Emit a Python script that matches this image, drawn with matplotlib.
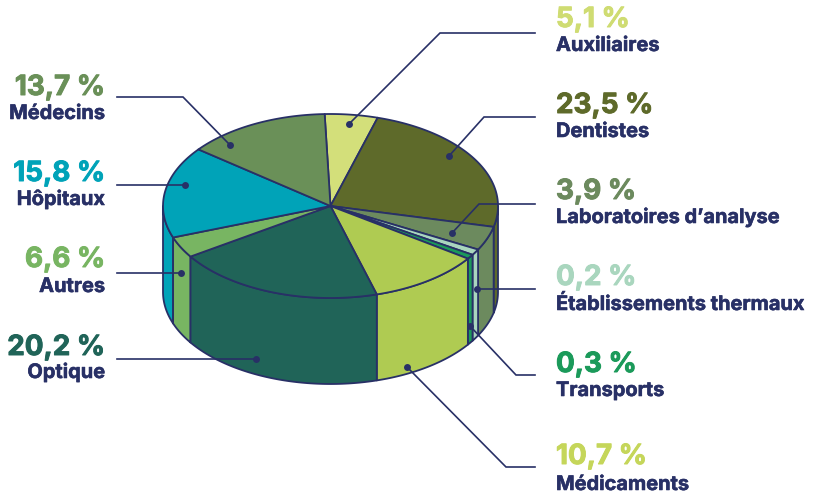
import numpy as np
import matplotlib
matplotlib.use("Agg")
import matplotlib.pyplot as plt
import matplotlib.patheffects as pe
from matplotlib.patches import Polygon

# Data (as labelled)
categories = ["Auxiliaires", "Dentistes", "Laboratoires d’analyse", "Établissements thermaux",
              "Transports", "Médicaments", "Optique", "Autres", "Hôpitaux", "Médecins"]
labels = ["5,1 %", "23,5 %", "3,9 %", "0,2 %", "0,3 %", "10,7 %", "20,2 %", "6,6 %", "15,8 %", "13,7 %"]
# Shares as actually drawn in the picture (slice widths)
drawn_shares = [5.1, 24.1, 4.2, 1.05, 0.8, 10.85, 20.2, 3.7, 16.1, 13.9]
colors = ["#D3DF7A", "#5E6A2A", "#6C8A5E", "#A9D6BE", "#1B9A5A", "#AFCB52",
          "#206458", "#78B562", "#00A3B8", "#6A9058"]
label_colors = ["#CFDC72", "#5E6A2A", "#6C8A5E", "#A9D6BE", "#1B9A5A", "#C5D65A",
                "#206458", "#78B562", "#00A3B8", "#6A9058"]
text_side = ["r", "r", "r", "r", "r", "r", "l", "l", "l", "l"]
value_base = [27, 113, 199, 285, 372, 464, 355, 267, 181, 95]
name_base = [51, 137, 223, 310, 396, 490, 378, 292, 205, 119]
leaders = [
    [(349, 124), (440, 33), (535, 33)],
    [(449, 156), (484, 117), (535, 117)],
    [(452, 233), (479, 204), (535, 204)],
    [(477, 289), (535, 289)],
    [(470, 326), (516, 375), (535, 375)],
    [(407, 367), (506, 467), (535, 467)],
    [(256, 359), (117, 359)],
    [(181, 273), (117, 273)],
    [(185, 185), (117, 185)],
    [(230, 145), (183, 97), (117, 97)],
]
NAVY = "#283066"
CX, CY, RX, RY, DEPTH = 330.5, 206.0, 167.5, 92.0, 86.0
START = -2.0

plt.rcParams["font.family"] = ["Inter", "DejaVu Sans"]
fig = plt.figure(figsize=(8.13, 4.95), dpi=100)
ax = fig.add_axes([0, 0, 1, 1])
ax.set_xlim(0, 813)
ax.set_ylim(495, 0)
ax.axis("off")


def pt(t, dy=0.0):
    r = np.radians(t)
    return CX + RX * np.sin(r), CY - RY * np.cos(r) + dy


def arc(a, b, dy=0.0, n=None):
    n = n or max(2, int(abs(b - a)) + 2)
    ts = np.linspace(a, b, n)
    return np.column_stack(pt(ts, dy))


edges = START + np.concatenate([[0], np.cumsum(drawn_shares)]) * 3.6
lw = 1.3

# side walls: only the front half (90..270 in parametric angle) is visible
order = sorted(range(len(colors)), key=lambda i: -abs(((edges[i] + edges[i + 1]) / 2) - 180))
for i in order:
    a, b = max(edges[i], 90), min(edges[i + 1], 270)
    if a >= b:
        continue
    top = arc(a, b)
    bot = arc(b, a, DEPTH)
    ax.add_patch(Polygon(np.vstack([top, bot]), closed=True, facecolor=colors[i],
                         edgecolor=NAVY, lw=lw, joinstyle="round", zorder=2))
# top slices
for i in range(len(colors)):
    poly = np.vstack([[(CX, CY)], arc(edges[i], edges[i + 1])])
    ax.add_patch(Polygon(poly, closed=True, facecolor=colors[i], edgecolor=NAVY,
                         lw=lw, joinstyle="round", zorder=3))

for i, cat in enumerate(categories):
    xs, ys = zip(*leaders[i])
    ax.plot(xs, ys, color=NAVY, lw=1.2, zorder=4, solid_joinstyle="miter")
    ax.plot(xs[0], ys[0], "o", color=NAVY, ms=5, mew=0, zorder=5)
    if text_side[i] == "r":
        x, ha = 556, "left"
    else:
        x, ha = 105, "right"
    t1 = ax.text(x, value_base[i], labels[i], color=label_colors[i], ha=ha, va="baseline",
                 fontsize=20, fontweight="bold", zorder=6)
    t1.set_path_effects([pe.withStroke(linewidth=0.7, foreground=label_colors[i])])
    t2 = ax.text(x, name_base[i], cat, color=NAVY, ha=ha, va="baseline",
                 fontsize=14.4, fontweight="bold", zorder=6)
    t2.set_path_effects([pe.withStroke(linewidth=0.4, foreground=NAVY)])

fig.savefig("out.png", dpi=100)
